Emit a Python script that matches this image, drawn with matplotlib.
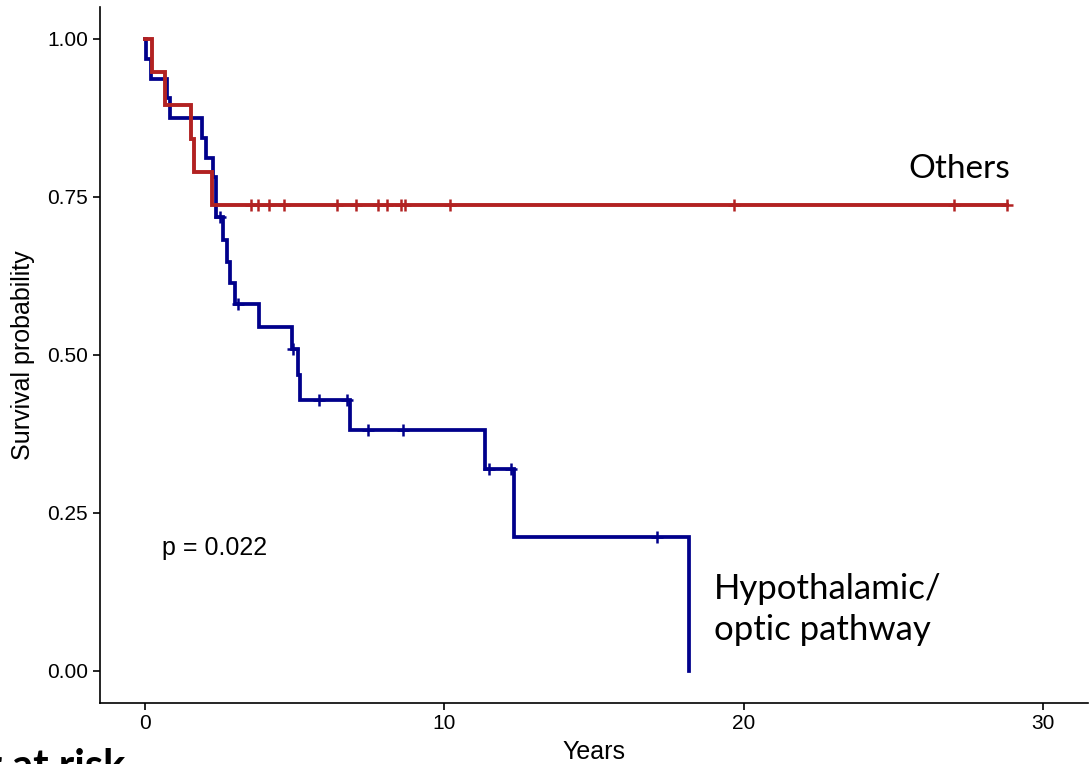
import numpy as np
import matplotlib
matplotlib.use("Agg")
import matplotlib.pyplot as plt

# Kaplan-Meier steps (time in years, survival after the step)
hypo_times = [0.0, 0.05, 0.2, 0.75, 0.85, 1.9, 2.05, 2.28, 2.36, 2.62, 2.74, 2.84,
              3.01, 3.82, 4.9, 5.1, 5.18, 6.86, 11.35, 12.32, 18.17]
hypo_surv = [1.0, 0.969, 0.9375, 0.906, 0.875, 0.844, 0.8125, 0.781, 0.719, 0.682, 0.647, 0.614,
             0.581, 0.545, 0.509, 0.469, 0.429, 0.381, 0.319, 0.2125, 0.0]
hypo_censor = [2.5, 3.12, 4.95, 5.8, 6.75, 7.45, 8.62, 11.48, 12.23, 17.09]

other_times = [0.0, 0.25, 0.67, 1.55, 1.65, 2.25, 28.8]
other_surv = [1.0, 0.947, 0.895, 0.842, 0.789, 0.737, 0.737]
other_censor = [3.54, 3.79, 4.16, 4.63, 6.41, 7.05, 7.8, 8.08, 8.56, 8.7, 10.2,
                19.67, 27.02, 28.8]

x_ticks = [0, 10, 20, 30]
y_ticks = [0.0, 0.25, 0.5, 0.75, 1.0]
y_ticklabels = ["0.00", "0.25", "0.50", "0.75", "1.00"]

BLUE = "#00008B"
RED = "#B22222"


def surv_at(times, surv, t):
    i = np.searchsorted(times, t, side="right") - 1
    return np.asarray(surv)[i]


plt.rcParams['font.family'] = ['Liberation Sans', 'DejaVu Sans']

fig = plt.figure(figsize=(10.9, 7.64), dpi=100)
ax = fig.add_axes([100 / 1090, 1 - 702.6 / 764, 988 / 1090, 695.2 / 764])

ax.step(hypo_times, hypo_surv, where='post', color=BLUE, lw=2.7, solid_joinstyle='miter')
ax.plot(hypo_censor, surv_at(hypo_times, hypo_surv, hypo_censor), '+', color=BLUE, ms=8, mew=1.8)
ax.step(other_times, other_surv, where='post', color=RED, lw=2.8, solid_joinstyle='miter')
ax.plot(other_censor, surv_at(other_times, other_surv, other_censor), '+', color=RED, ms=8, mew=1.8)

ax.set_xlim(-1.5, 31.5)
ax.set_ylim(-0.05, 1.05)
ax.set_xticks(x_ticks)
ax.set_yticks(y_ticks)
ax.set_yticklabels(y_ticklabels)
ax.tick_params(labelsize=15, length=5, width=1.2, color='black', labelcolor='black')
for side in ['top', 'right']:
    ax.spines[side].set_visible(False)
for side in ['left', 'bottom']:
    ax.spines[side].set_linewidth(1.2)

ax.set_xlabel("Years", fontsize=18, labelpad=5)
ax.set_ylabel("Survival probability", fontsize=18, labelpad=9)

ax.text(0.57, 0.195, "p = 0.022", fontsize=18, va='center', ha='left')
ax.text(28.9, 0.795, "Others", fontsize=24, family=['Lato', 'DejaVu Sans'],
        ha='right', va='center')
ax.text(19.0, 0.097, "Hypothalamic/\noptic pathway", fontsize=25, family=['Lato', 'DejaVu Sans'],
        ha='left', va='center', linespacing=1.35)

# cut off at the bottom edge, as in the reference
fig.text(125 / 1090, 1 - 779 / 764, "Number at risk", fontsize=30, fontweight='bold',
         family=['Lato', 'DejaVu Sans'], ha='right', va='baseline')

fig.savefig("out.png", dpi=100)
